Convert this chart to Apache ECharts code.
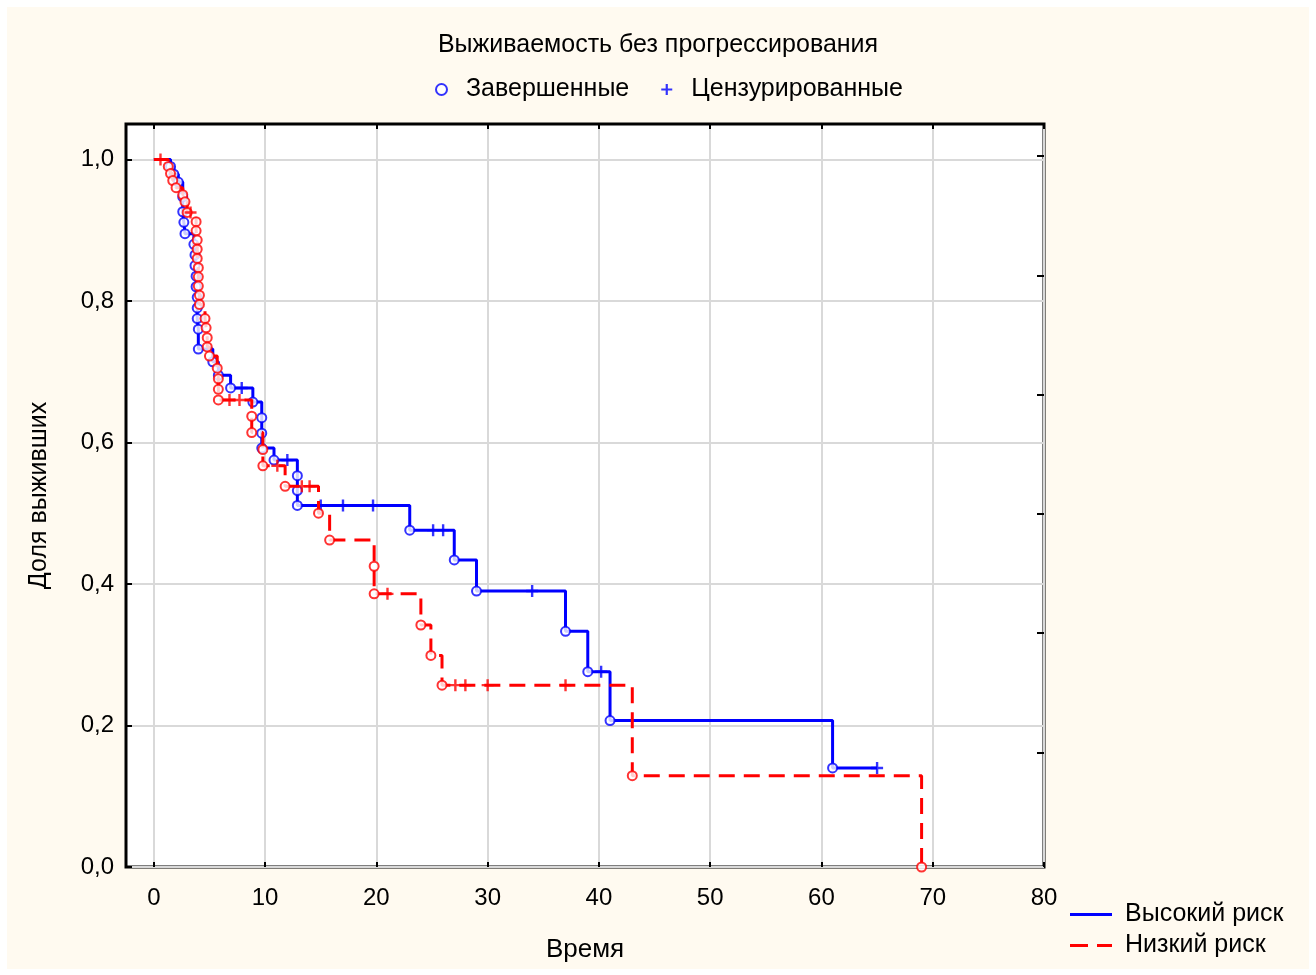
<!DOCTYPE html>
<html><head><meta charset="utf-8">
<script src="https://cdn.jsdelivr.net/npm/echarts@6/dist/echarts.min.js"></script>
<style>html,body{margin:0;padding:0;background:#fff}#c{width:1316px;height:975px}</style>
</head><body><div id="c"></div><script>
// ---- text ----
const titleText = 'Выживаемость без прогрессирования';
const legendTop = ['Завершенные', 'Цензурированные'];
const groupNames = ['Высокий риск', 'Низкий риск'];
const xName = 'Время';
const yName = 'Доля выживших';
// ---- ticks ----
const xTicks = [0, 10, 20, 30, 40, 50, 60, 70, 80];
const yTicks = [0, 0.2, 0.4, 0.6, 0.8, 1.0];
const rightTicks = [0.162, 0.331, 0.499, 0.668, 0.836, 1.005];
// ---- high risk (blue) ----
const highEventT = [1.5, 1.8, 2.2, 2.6, 2.6, 2.7, 2.8, 3.6, 3.7, 3.7, 3.8, 3.8, 3.9, 3.9, 3.9, 4.0, 4.0, 5.3, 5.8, 6.9, 8.9, 9.7, 9.7, 9.7, 10.8, 12.9, 12.9, 12.9, 23.0, 27.0, 29.0, 37.0, 39.0, 41.0, 61.0];
const highEventS = [0.99, 0.979, 0.968, 0.947, 0.926, 0.911, 0.895, 0.88, 0.865, 0.85, 0.835, 0.82, 0.805, 0.79, 0.775, 0.76, 0.732, 0.714, 0.695, 0.677, 0.657, 0.635, 0.613, 0.592, 0.575, 0.553, 0.532, 0.511, 0.476, 0.434, 0.39, 0.333, 0.276, 0.207, 0.14];
const highCensT = [7.9, 12.0, 15.0, 17.0, 19.7, 25.1, 26.0, 34.0, 40.2, 65.0];
// ---- low risk (red) ----
const lowEventT = [1.3, 1.5, 1.7, 2.0, 2.6, 2.8, 3.0, 3.8, 3.8, 3.9, 3.9, 3.9, 4.0, 4.0, 4.0, 4.1, 4.1, 4.6, 4.7, 4.8, 4.8, 5.0, 5.7, 5.8, 5.8, 5.8, 8.8, 8.8, 9.8, 9.8, 11.8, 14.8, 15.8, 19.8, 19.8, 24.0, 24.9, 25.9, 43.0, 69.0];
const lowEventS = [0.99, 0.98, 0.97, 0.96, 0.95, 0.94, 0.925, 0.912, 0.899, 0.886, 0.873, 0.86, 0.847, 0.834, 0.821, 0.808, 0.795, 0.775, 0.762, 0.748, 0.735, 0.722, 0.705, 0.69, 0.675, 0.66, 0.637, 0.614, 0.59, 0.567, 0.538, 0.50, 0.462, 0.425, 0.386, 0.342, 0.299, 0.257, 0.129, 0.0];
const lowCensT = [0.6, 3.3, 6.8, 7.7, 11.1, 13.3, 14.0, 21.0, 27.1, 28.0, 30.0, 37.0];

function survAt(eT, eS, t) {
  let s = 1;
  for (let i = 0; i < eT.length; i++) if (eT[i] <= t) s = eS[i];
  return s;
}
function censPts(eT, eS, cT) { return cT.map(t => [t, survAt(eT, eS, t)]); }
function evPts(eT, eS) { return eT.map((t, i) => [t, eS[i]]); }
function linePts(eT, eS, cT) {
  const pts = [[0, 1, 0]];
  eT.forEach((t, i) => pts.push([t, eS[i], 1]));
  cT.forEach(t => pts.push([t, survAt(eT, eS, t), 2]));
  pts.sort((a, b) => a[0] - b[0] || a[2] - b[2] || b[1] - a[1]);
  return pts.map(p => [p[0], p[1]]);
}

const BLUE = '#0000ff', RED = '#ff0000';
const PLUS = 'path://M4,0h2v10h-2z M0,4h10v2h-10z';
const SOLID_ICON = 'path://M0,0h42v3h-42z';
const DASH_ICON = 'path://M0,0h18v3h-18z M27,0h15v3h-15z';
const FONT = 'Liberation Sans, Arial, sans-serif';
const fmt = v => v.toFixed(1).replace('.', ',');

const chart = echarts.init(document.getElementById('c'), null, {renderer: 'canvas'});
chart.setOption({
  backgroundColor: '#ffffff',
  animation: false,
  textStyle: {fontFamily: FONT, color: '#000'},
  graphic: [{type: 'rect', z: -100, shape: {x: 7, y: 7, width: 1302, height: 962}, style: {fill: '#FFFAF0'}}],
  title: {text: titleText, left: 'center', top: 28, textStyle: {fontSize: 25, fontWeight: 'normal', color: '#000', fontFamily: FONT}},
  legend: [
    {data: [{name: legendTop[0], icon: 'emptyCircle'}, {name: legendTop[1], icon: PLUS}],
     left: 430, top: 72, itemWidth: 11, itemHeight: 11, itemGap: 32,
     textStyle: {fontSize: 25, color: '#000', padding: [0, 0, 0, 14]}},
    {data: [{name: groupNames[0], icon: SOLID_ICON, itemStyle: {color: BLUE}},
            {name: groupNames[1], icon: DASH_ICON, itemStyle: {color: RED}}],
     orient: 'vertical', left: 1070, top: 902, padding: 0, itemWidth: 42, itemHeight: 3, itemGap: 6,
     textStyle: {fontSize: 25, color: '#000', padding: [0, 0, 0, 8]}}
  ],
  grid: {left: 126, top: 124, width: 918, height: 743, show: true, backgroundColor: '#fff', borderColor: '#000', borderWidth: 3, containLabel: false},
  xAxis: [
    {type: 'value', min: -2.5, max: 80, position: 'bottom',
     name: xName, nameLocation: 'middle', nameGap: 70, nameTextStyle: {fontSize: 26, color: '#000'},
     axisLine: {show: false, onZero: false},
     axisTick: {show: true, inside: true, length: 5, lineStyle: {color: '#000', width: 2}, customValues: xTicks},
     axisLabel: {fontSize: 24, color: '#000', margin: 19, customValues: xTicks},
     splitLine: {show: true, lineStyle: {color: '#d9d9d9', width: 2}}},
    {type: 'value', min: -2.5, max: 80, position: 'top',
     axisLine: {show: false, onZero: false}, axisLabel: {show: false}, splitLine: {show: false},
     axisTick: {show: true, inside: true, length: 5, lineStyle: {color: '#000', width: 2}, customValues: xTicks}}
  ],
  yAxis: [
    {type: 'value', min: 0, max: 1.05, position: 'left',
     name: yName, nameLocation: 'middle', nameGap: 74, nameTextStyle: {fontSize: 25, color: '#000'},
     axisLine: {show: false, onZero: false},
     axisTick: {show: true, inside: true, length: 6, lineStyle: {color: '#000', width: 2}, customValues: yTicks},
     axisLabel: {fontSize: 24, color: '#000', margin: 12, customValues: yTicks, formatter: fmt},
     splitLine: {show: true, lineStyle: {color: '#d9d9d9', width: 2}}},
    {type: 'value', min: 0, max: 1.05, position: 'right',
     axisLine: {show: false, onZero: false}, axisLabel: {show: false}, splitLine: {show: false},
     axisTick: {show: true, inside: true, length: 7, lineStyle: {color: '#000', width: 2}, customValues: rightTicks}}
  ],
  series: [
    {name: groupNames[0], type: 'line', step: 'end', symbol: 'none', data: linePts(highEventT, highEventS, highCensT),
     color: BLUE, lineStyle: {color: BLUE, width: 3}, z: 3},
    {name: 'hiEv', type: 'scatter', symbol: 'emptyCircle', symbolSize: 9, data: evPts(highEventT, highEventS),
     itemStyle: {color: BLUE, borderColor: BLUE, borderWidth: 3}, z: 4},
    {name: 'hiCens', type: 'scatter', symbol: PLUS, symbolSize: 12, data: censPts(highEventT, highEventS, highCensT),
     itemStyle: {color: BLUE}, z: 4},
    {name: groupNames[1], type: 'line', step: 'end', symbol: 'none', data: linePts(lowEventT, lowEventS, lowCensT),
     color: RED, lineStyle: {color: RED, width: 3, type: [16, 9]}, z: 5},
    {name: 'loEv', type: 'scatter', symbol: 'emptyCircle', symbolSize: 9, data: evPts(lowEventT, lowEventS),
     itemStyle: {color: RED, borderColor: RED, borderWidth: 3}, z: 6},
    {name: 'loCens', type: 'scatter', symbol: PLUS, symbolSize: 12, data: censPts(lowEventT, lowEventS, lowCensT),
     itemStyle: {color: RED}, z: 6},
    {name: legendTop[0], type: 'scatter', data: [], symbol: 'emptyCircle', itemStyle: {color: BLUE, borderColor: BLUE, borderWidth: 3}},
    {name: legendTop[1], type: 'scatter', data: [], symbol: PLUS, itemStyle: {color: BLUE}}
  ]
});
</script></body></html>
